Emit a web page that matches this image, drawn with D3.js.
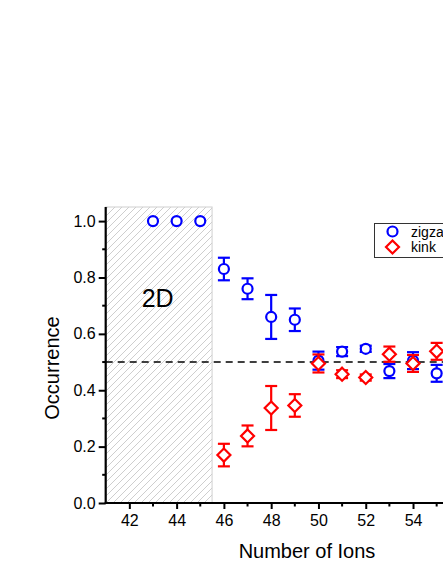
<!DOCTYPE html>
<html><head><meta charset="utf-8">
<script src="https://cdn.jsdelivr.net/npm/d3@7"></script>
<style>body{margin:0;background:#fff}svg{display:block}</style>
</head><body>
<script>
const ions = [46,47,48,49,50,51,52,53,54,55];
const zigzag = [0.83,0.76,0.66,0.65,0.505,0.537,0.547,0.468,0.505,0.46];
const zigzagErr = [0.04,0.037,0.078,0.04,0.032,0.016,0.011,0.025,0.03,0.03];
const kink = [0.17,0.238,0.337,0.346,0.495,0.457,0.445,0.528,0.495,0.538];
const kinkErr = [0.04,0.037,0.078,0.04,0.032,0.014,0.011,0.027,0.03,0.03];
const ions2D = [43,44,45];
const zigzag2D = [1.0,1.0,1.0];
const xTicks = [42,44,46,48,50,52,54];
const xMinor = [43,45,47,49,51,53,55];
const yTicks = [0,0.2,0.4,0.6,0.8,1.0];
const yMinor = [0.1,0.3,0.5,0.7,0.9];
const region2D = [41,45.5];
const refLine = 0.5;

const W=443,H=573;
const svg=d3.select("body").append("svg").attr("width",W).attr("height",H);
const x=d3.scaleLinear().domain([41,56]).range([105.7,105.7+15*23.64]);
const y=d3.scaleLinear().domain([0,1.05]).range([503,207]);
const font="Liberation Sans, Arial, sans-serif";

const defs=svg.append("defs");
const pat=defs.append("pattern").attr("id","hatch").attr("patternUnits","userSpaceOnUse")
  .attr("width",7).attr("height",7);
pat.append("rect").attr("width",7).attr("height",7).attr("fill","#fff");
pat.append("path").attr("d","M-1,1 l2,-2 M0,7 l7,-7 M6,8 l2,-2").attr("stroke","#c8c8c8").attr("stroke-width",0.9);

svg.append("rect").attr("x",x(region2D[0])).attr("y",y(1.05))
  .attr("width",x(region2D[1])-x(region2D[0])).attr("height",y(0)-y(1.05))
  .attr("fill","url(#hatch)").attr("stroke","#d0d0d0").attr("stroke-width",1);

svg.append("text").attr("x",x(43.2)).attr("y",y(0.695)).attr("text-anchor","middle")
  .attr("font-family",font).attr("font-size",25).text("2D");

// dashed reference line
svg.append("line").attr("x1",x(41)).attr("x2",W).attr("y1",y(refLine)).attr("y2",y(refLine))
  .attr("stroke","#000").attr("stroke-width",1.5).attr("stroke-dasharray","7,5");

// axes
const xAxis=svg.append("g").attr("transform",`translate(0,${y(0)})`)
  .call(d3.axisBottom(x).tickValues(xTicks).tickSize(6).tickFormat(d3.format("d")));
xAxis.select(".domain").remove();
xAxis.selectAll(".tick line").attr("stroke-width",2);
xAxis.selectAll(".tick text").attr("font-family",font).attr("font-size",16).attr("y",12).attr("dy","0.71em").attr("fill","#000");
svg.append("g").selectAll("line").data(xMinor).join("line")
  .attr("x1",d=>x(d)).attr("x2",d=>x(d)).attr("y1",y(0)).attr("y2",y(0)+3.5)
  .attr("stroke","#000").attr("stroke-width",2);
svg.append("line").attr("x1",x(41)-1).attr("x2",W).attr("y1",y(0)).attr("y2",y(0)).attr("stroke","#000").attr("stroke-width",2.2);

const yAxis=svg.append("g").attr("transform",`translate(${x(41)},0)`)
  .call(d3.axisLeft(y).tickValues(yTicks).tickSize(7).tickFormat(d3.format(".1f")));
yAxis.select(".domain").remove();
yAxis.selectAll(".tick line").attr("stroke-width",2);
yAxis.selectAll(".tick text").attr("font-family",font).attr("font-size",16).attr("x",-10).attr("fill","#000");
svg.append("g").selectAll("line").data(yMinor).join("line")
  .attr("x1",x(41)).attr("x2",x(41)-3.5).attr("y1",d=>y(d)).attr("y2",d=>y(d))
  .attr("stroke","#000").attr("stroke-width",2);
svg.append("line").attr("x1",x(41)).attr("x2",x(41)).attr("y1",y(1.05)).attr("y2",y(0)+1).attr("stroke","#000").attr("stroke-width",2.2);

svg.append("text").attr("x",307).attr("y",558).attr("text-anchor","middle")
  .attr("font-family",font).attr("font-size",20).text("Number of Ions");
svg.append("text").attr("transform","translate(59,368) rotate(-90)").attr("text-anchor","middle")
  .attr("font-family",font).attr("font-size",20).text("Occurrence");

// error bars
function errBars(vals,errs,color){
  const g=svg.append("g").attr("stroke",color).attr("stroke-width",2.2).attr("fill","none");
  ions.forEach((n,i)=>{
    const cx=x(n), t=y(vals[i]+errs[i]), b=y(vals[i]-errs[i]);
    g.append("line").attr("x1",cx).attr("x2",cx).attr("y1",t).attr("y2",b);
    g.append("line").attr("x1",cx-6).attr("x2",cx+6).attr("y1",t).attr("y2",t);
    g.append("line").attr("x1",cx-6).attr("x2",cx+6).attr("y1",b).attr("y2",b);
  });
}
errBars(zigzag,zigzagErr,"#0000ff");
const circ=(g,cx,cy)=>g.append("circle").attr("cx",cx).attr("cy",cy).attr("r",5).attr("fill","#fff").attr("stroke","#0000ff").attr("stroke-width",2.2);
const gz=svg.append("g");
ions.forEach((n,i)=>circ(gz,x(n),y(zigzag[i])));
ions2D.forEach((n,i)=>circ(gz,x(n),y(zigzag2D[i])));

errBars(kink,kinkErr,"#ff0000");
const dia=(g,cx,cy)=>g.append("path").attr("d",`M${cx},${cy-6.5}L${cx+6.5},${cy}L${cx},${cy+6.5}L${cx-6.5},${cy}Z`)
  .attr("fill","#fff").attr("stroke","#ff0000").attr("stroke-width",2.2);
const gk=svg.append("g");
ions.forEach((n,i)=>dia(gk,x(n),y(kink[i])));

// legend
svg.append("rect").attr("x",374.5).attr("y",223.5).attr("width",120).attr("height",34)
  .attr("fill","#fff").attr("stroke","#333").attr("stroke-width",1);
circ(svg,392.5,231.5);
dia(svg,392.5,247);
svg.append("text").attr("x",411).attr("y",236.5).attr("font-family",font).attr("font-size",14).text("zigzag");
svg.append("text").attr("x",411).attr("y",252).attr("font-family",font).attr("font-size",14).text("kink");
</script>
</body></html>
